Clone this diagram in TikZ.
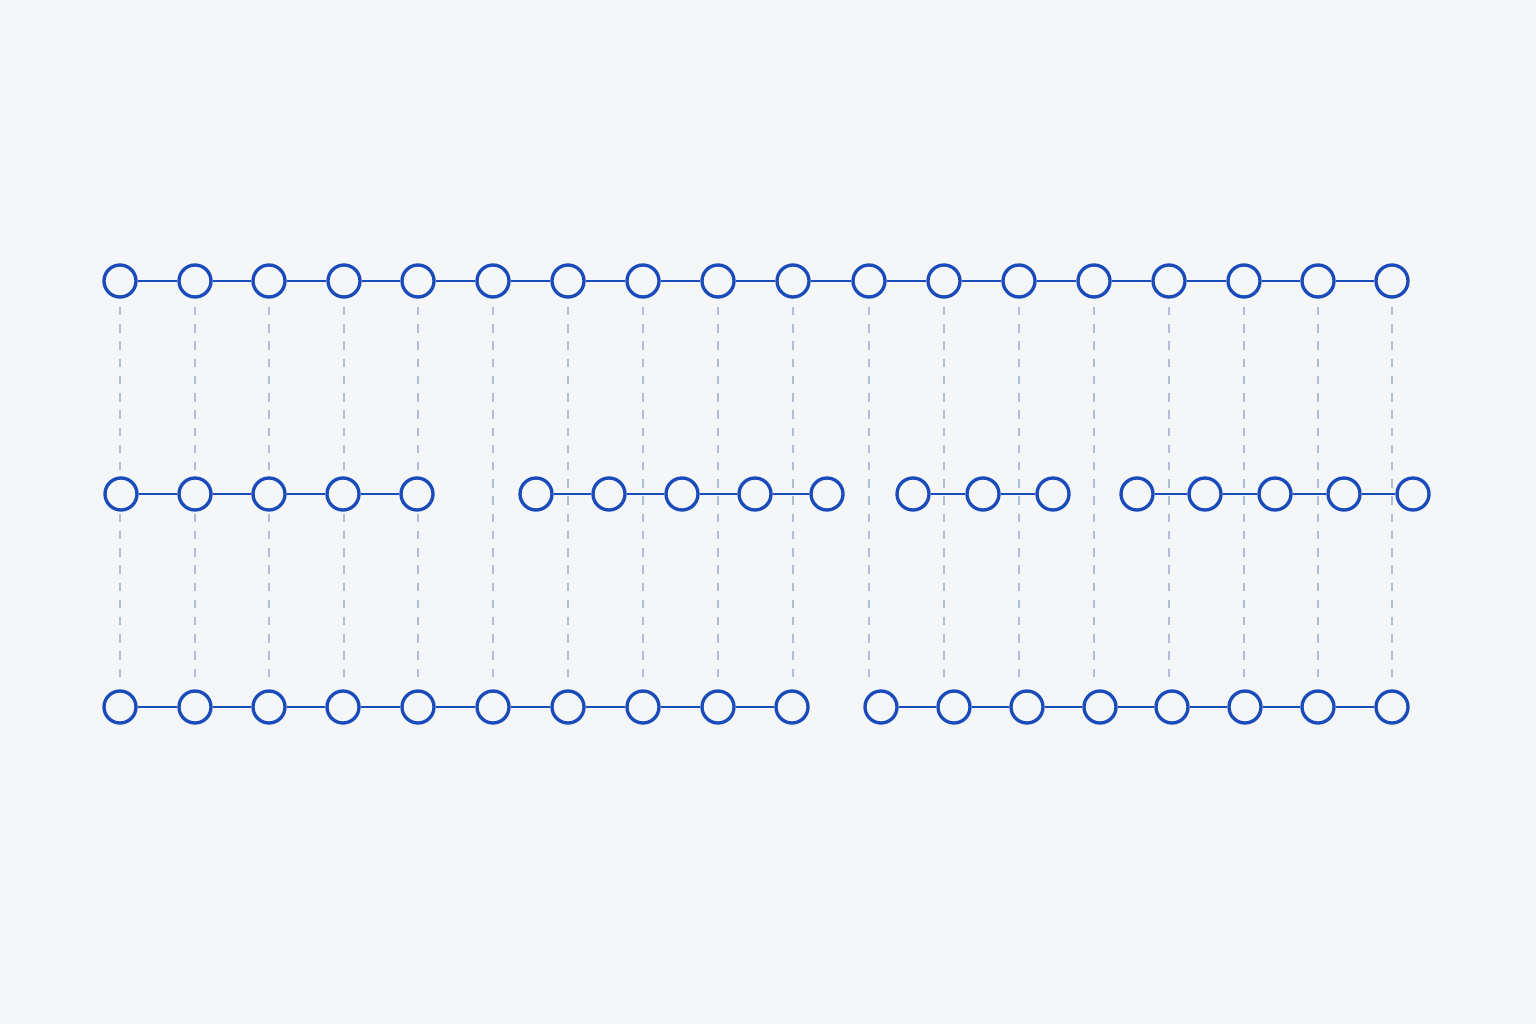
\documentclass[tikz,border=0pt]{standalone}
\usepackage{tikz}
\definecolor{bgcol}{HTML}{F4F6F8}
\definecolor{beadblue}{HTML}{1A4BBA}
\definecolor{guidegray}{HTML}{AFBED6}
\tikzset{
  bead/.style={circle, draw=beadblue, fill=bgcol, line width=0.95pt, minimum size=0.32cm, inner sep=0pt},
  link/.style={draw=beadblue, line width=0.75pt},
  guide/.style={draw=guidegray, line width=0.45pt, dash pattern=on 2.4pt off 2.5pt}
}
\begin{document}
\begin{tikzpicture}
        \fill[bgcol] (0,0) rectangle (15.36,10.24);
        \useasboundingbox (0,0) rectangle (15.36,10.24);
        % Vertical guides under the top row
        \foreach \x [count=\i] in {1.20,1.95,2.69,3.44,4.18,4.93,5.68,6.43,7.18,7.93,8.69,9.44,10.19,10.94,11.69,12.44,13.18,13.92} {
            \coordinate (g\i) at (\x,7.17);
            \coordinate (h\i) at (\x,3.39);
            \draw[guide] (g\i) -- (h\i);
        }
        % Top row
        \foreach \x [count=\i] in {1.20,1.95,2.69,3.44,4.18,4.93,5.68,6.43,7.18,7.93,8.69,9.44,10.19,10.94,11.69,12.44,13.18,13.92}
            \node[bead] (t\i) at (\x,7.43) {};
        \foreach \i [evaluate=\i as \j using int(\i+1)] in {1,...,17}
            \draw[link] (t\i) -- (t\j);
        % Middle row, four pieces
        \foreach \x [count=\i] in {1.21,1.95,2.69,3.43,4.17,5.36,6.09,6.82,7.55,8.27,9.13,9.83,10.53,11.37,12.05,12.75,13.44,14.13}
            \node[bead] (m\i) at (\x,5.30) {};
        \foreach \i [evaluate=\i as \j using int(\i+1)] in {1,2,3,4,6,7,8,9,11,12,14,15,16,17}
            \draw[link] (m\i) -- (m\j);
        % Bottom row, two pieces
        \foreach \x [count=\i] in {1.20,1.95,2.69,3.43,4.18,4.93,5.68,6.43,7.18,7.92,8.81,9.54,10.27,11.00,11.72,12.45,13.18,13.92}
            \node[bead] (b\i) at (\x,3.17) {};
        \foreach \i [evaluate=\i as \j using int(\i+1)] in {1,...,9,11,12,13,14,15,16,17}
            \draw[link] (b\i) -- (b\j);
    \end{tikzpicture}
\end{document}
